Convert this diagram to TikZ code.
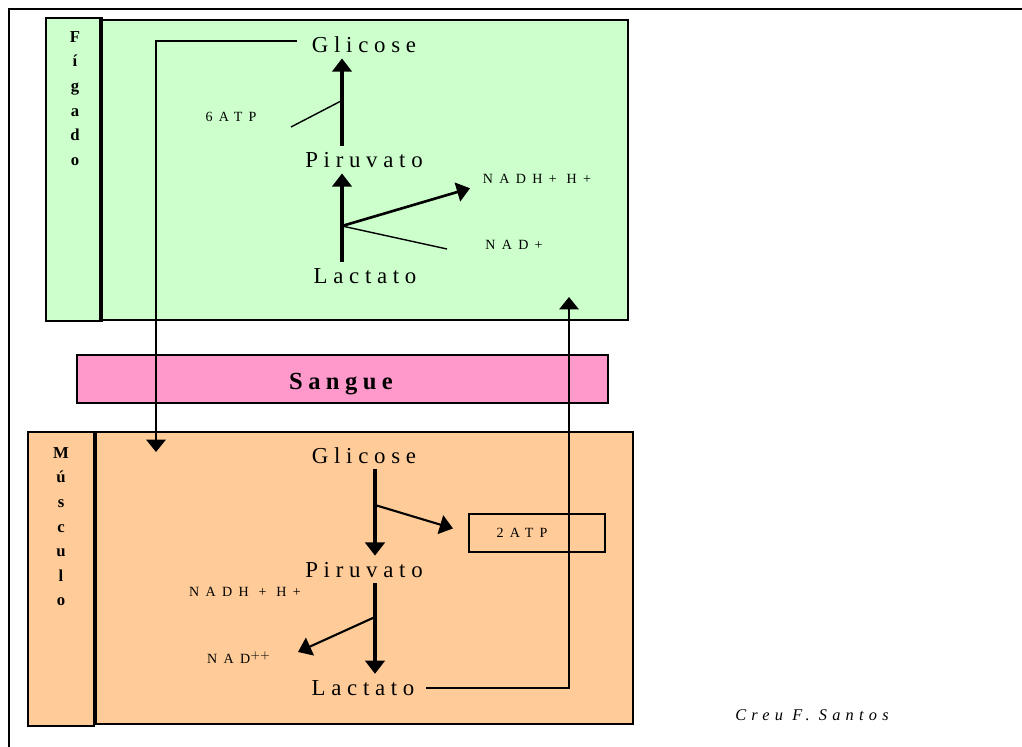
\documentclass[tikz,border=0pt]{standalone}
\usepackage{fontspec}
\setmainfont{Liberation Serif}
\newfontfamily\wideface[LetterSpace=25]{Liberation Serif}
\newfontfamily\widerface[LetterSpace=45]{Liberation Serif}
\newfontfamily\boldface[LetterSpace=22]{Liberation Serif}
\newfontfamily\signface[LetterSpace=32]{Liberation Serif}
\usetikzlibrary{arrows.meta,fit}
\definecolor{LiverGreen}{RGB}{204,255,204}
\definecolor{BloodPink}{RGB}{255,153,204}
\definecolor{MuscleOrange}{RGB}{255,204,153}
\tikzset{
  panel/.style={draw=black,line width=1pt,inner sep=0pt},
  metab/.style={font=\fontsize{13}{15}\selectfont\wideface,anchor=base},
  cofac/.style={font=\fontsize{8}{10}\selectfont\widerface,anchor=base},
  organ/.style={font=\fontsize{9.5}{14}\selectfont\bfseries,align=center,
    anchor=north,inner sep=0pt},
  reac/.style={-{Triangle[width=11pt,length=7.5pt]},line width=1.8pt},
  flow/.style={-{Triangle[width=11pt,length=7pt]},line width=1.1pt},
  side/.style={line width=0.8pt}
}

\begin{document}
\begin{tikzpicture}[x=0.02cm,y=-0.02cm]
  \useasboundingbox (0,0) rectangle (1022,747);
  % outer frame
  \draw[line width=1pt] (9,747) -- (9,9) -- (1022,9);

  % Figado panel
  \node[panel,fill=LiverGreen,fit={(46,18) (102,321)}] (figLbl) {};
  \node[panel,fill=LiverGreen,fit={(102,20) (628,320)}] (figBox) {};
  \draw[line width=2.2pt] (figBox.north west) -- (figBox.south west);
  \node[organ] (figTxt) at (75,31) {F\\í\\g\\a\\d\\o};

  \node[metab] (glcF) at (364,52) {Glicose};
  \node[metab] (pirF) at (364,167) {Piruvato};
  \node[metab] (lacF) at (365,283) {Lactato};
  \node[cofac] (atp6) at (231,121) {6ATP};
  \node[cofac] (nadhF) at (537,183) {NADH+ H+};
  \node[cofac] (nadF) at (514,249) {NAD+};

  % Sangue bar
  \node[panel,fill=BloodPink,fit={(77,355) (608,403)}] (sangue) {};
  \node[font=\fontsize{14}{16}\selectfont\boldface\bfseries,anchor=base] (sangTxt) at (341,389) {Sangue};

  % Musculo panel
  \node[panel,fill=MuscleOrange,fit={(28,432) (94,726)}] (musLbl) {};
  \node[panel,fill=MuscleOrange,fit={(96,432) (633,724)}] (musBox) {};
  \draw[line width=2.2pt] (musBox.north west) -- (musBox.south west);
  \node[organ] (musTxt) at (61,447) {M\\ú\\s\\c\\u\\l\\o};

  \node[metab] (glcM) at (364,463) {Glicose};
  \node[metab] (pirM) at (364,577) {Piruvato};
  \node[metab] (lacM) at (363,695) {Lactato};
  \node[panel,fit={(469,514) (605,552)}] (atpBox) {};
  \node[cofac] (atp2) at (522,537) {2ATP};
  \node[cofac] (nadhM) at (245,596) {NADH + H+};
  \node[cofac] (nadM) at (239,663) {NAD$^{++}$};

  \node[font=\fontsize{9.3}{11}\selectfont\signface\itshape,anchor=base] (autor) at (812,720) {Creu F. Santos};

  % reactions in the liver
  \coordinate (fkF) at (342,226);
  \coordinate (jF) at (341,101);
  \coordinate (atpEnd) at (291,127);
  \coordinate (nadEnd) at (447,249);
  \draw[reac] (fkF |- lacF.north) -- (fkF |- pirF.south);
  \draw[reac] (fkF |- pirF.north) -- (fkF |- glcF.south);
  \draw[side] (atpEnd) -- (jF);
  \draw[reac,line width=1.5pt,shorten >=4pt] (fkF) -- ([yshift=-4.5pt]nadhF.west);
  \draw[side] (fkF) -- (nadEnd);

  % reactions in the muscle
  \coordinate (fkM1) at (375,505);
  \coordinate (fkM2) at (375,617);
  \coordinate (nadTip) at (298,652);
  \draw[reac] (fkM1 |- glcM.south) -- (fkM1 |- pirM.north);
  \draw[reac,line width=1.2pt,shorten >=9pt] (fkM1) -- (atpBox.west);
  \draw[reac] (fkM2 |- pirM.south) -- (fkM2 |- lacM.north);
  \draw[reac,line width=1.2pt] (fkM2) -- (nadTip);

  % transport through the blood
  \coordinate (musIn) at (156,452);
  \coordinate (figIn) at (569,297);
  \draw[flow,shorten <=5pt] ([yshift=1.7pt]glcF.west) -| (musIn);
  \draw[flow,shorten <=3pt] (lacM.east) -| (figIn);
\end{tikzpicture}
\end{document}
